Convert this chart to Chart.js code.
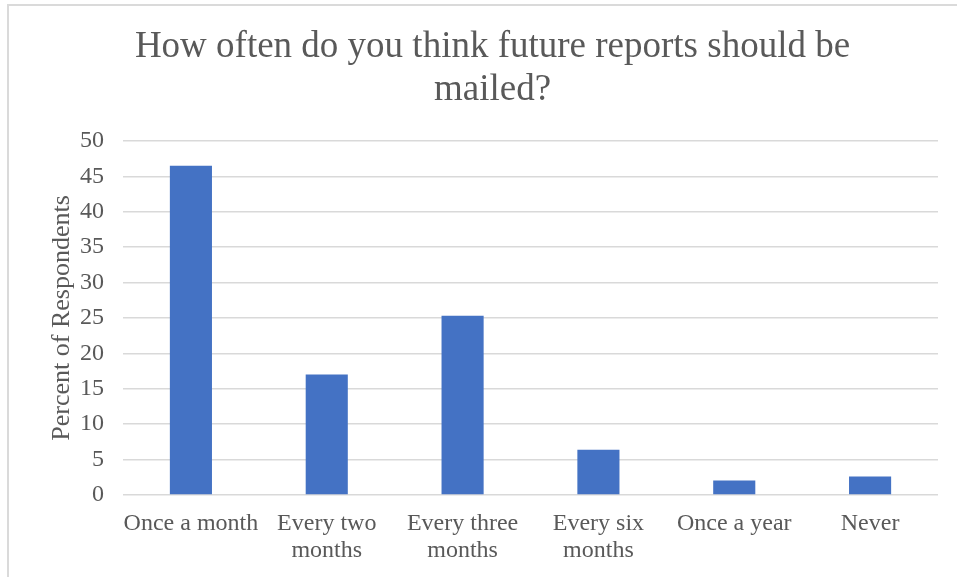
<!DOCTYPE html>
<html>
<head>
<meta charset="utf-8">
<script src="https://cdn.jsdelivr.net/npm/chart.js@4"></script>
<style>
  body { margin: 0; background: #fff; }
  #wrap { position: absolute; left: 0; top: 0; width: 957px; height: 577px; overflow: hidden; }
  #frame { position: absolute; left: 7px; top: 4px; width: 960px; height: 590px; border-left: 2px solid #dadada; border-top: 2px solid #dadada; pointer-events: none; }
</style>
</head>
<body>
<div id="wrap">
  <canvas id="chartView" width="957" height="577"></canvas>
  <div id="frame"></div>
</div>
<script>
var categories = [
  'Once a month',
  ['Every two', 'months'],
  ['Every three', 'months'],
  ['Every six', 'months'],
  'Once a year',
  'Never'
];
var percentValues = [46.5, 17, 25.3, 6.4, 2.05, 2.6];
var titleLines = ['How often do you think future reports should be', 'mailed?'];
var yAxisTitle = 'Percent of Respondents';

var textColor = '#595959';
var serif = "'Liberation Serif', 'Times New Roman', serif";

var ctx = document.getElementById('chartView').getContext('2d');
new Chart(ctx, {
  type: 'bar',
  data: {
    labels: categories,
    datasets: [{
      label: 'Percent',
      data: percentValues,
      backgroundColor: '#4472c4',
      borderWidth: 0,
      categoryPercentage: 1,
      barPercentage: 0.31
    }]
  },
  options: {
    responsive: false,
    animation: false,
    layout: { padding: { left: 47, right: 19, top: 26, bottom: 13 } },
    plugins: {
      legend: { display: false },
      tooltip: { enabled: false },
      title: {
        display: true,
        text: titleLines,
        color: textColor,
        font: { family: serif, size: 37, weight: 'normal', lineHeight: 1.16 },
        padding: { top: 0, bottom: 29 }
      }
    },
    scales: {
      x: {
        // two label rows plus the gap above them
        afterFit: function (scale) { scale.height = 69; },
        grid: { display: false, drawTicks: false },
        border: { display: false },
        ticks: {
          color: textColor,
          font: { family: serif, size: 24, lineHeight: 1.13 },
          padding: 15,
          maxRotation: 0,
          autoSkip: false
        }
      },
      y: {
        // axis title + tick labels + gap to the plot
        afterFit: function (scale) { scale.width = 76; },
        min: 0,
        max: 50,
        grid: { color: '#d9d9d9', lineWidth: 1.5, drawTicks: false },
        border: { display: false },
        ticks: {
          stepSize: 5,
          color: textColor,
          font: { family: serif, size: 24 },
          padding: 19
        },
        title: {
          display: true,
          text: yAxisTitle,
          color: textColor,
          font: { family: serif, size: 26, lineHeight: 1.2 },
          padding: { top: 0, bottom: 3 }
        }
      }
    }
  }
});
</script>
</body>
</html>
